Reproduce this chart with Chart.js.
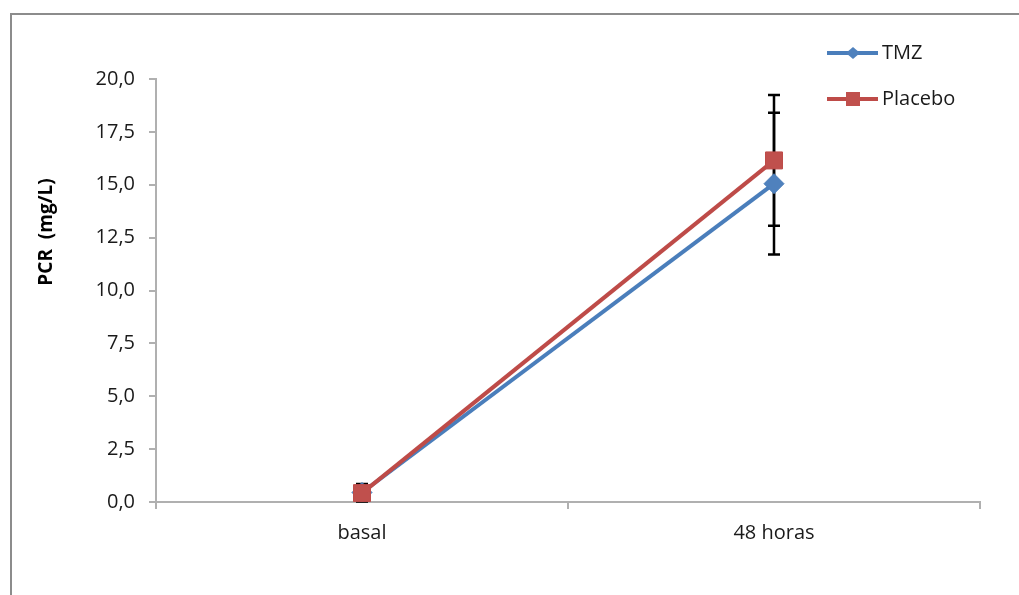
<!DOCTYPE html>
<html>
<head>
<meta charset="utf-8">
<script src="https://cdn.jsdelivr.net/npm/chart.js@4.4.1/dist/chart.umd.min.js"></script>
<style>
  html, body { margin: 0; padding: 0; background: #fff; overflow: hidden; }
  canvas { display: block; }
</style>
</head>
<body>
<canvas id="c" width="1019" height="595"></canvas>
<script>
// ---- data ----
const categories = ['basal', '48 horas'];
const tmzValues = [0.45, 15.05];
const tmzErrors = [0.40, 3.35];
const placeboValues = [0.42, 16.15];
const placeboErrors = [0.40, 3.09];
const yTickLabels = ['0,0', '2,5', '5,0', '7,5', '10,0', '12,5', '15,0', '17,5', '20,0'];
const yTitle = 'PCR  (mg/L)';
const seriesNames = ['TMZ', 'Placebo'];

const FONT = "'Open Sans', 'Liberation Sans', sans-serif";
const AXIS_COLOR = '#b0b0b0';

const errorBarPlugin = {
  id: 'errorBars',
  beforeDatasetsDraw(chart) {
    const ctx = chart.ctx;
    const y = chart.scales.y;
    const x = chart.scales.x;
    const sets = [[tmzValues, tmzErrors], [placeboValues, placeboErrors]];
    ctx.save();
    ctx.strokeStyle = '#000';
    ctx.lineWidth = 2.5;
    sets.forEach(([vals, errs]) => {
      vals.forEach((v, i) => {
        const px = x.getPixelForValue(i);
        const top = y.getPixelForValue(v + errs[i]);
        const bot = y.getPixelForValue(Math.max(0, v - errs[i]));
        ctx.beginPath();
        ctx.moveTo(px, top); ctx.lineTo(px, bot);
        ctx.moveTo(px - 6, top); ctx.lineTo(px + 6, top);
        ctx.moveTo(px - 6, bot); ctx.lineTo(px + 6, bot);
        ctx.stroke();
      });
    });
    ctx.restore();
  }
};

const framePlugin = {
  id: 'frame',
  beforeDraw(chart) {
    const ctx = chart.ctx;
    ctx.save();
    ctx.fillStyle = '#fff';
    ctx.fillRect(0, 0, chart.width, chart.height);
    ctx.strokeStyle = '#8c8c8c';
    ctx.lineWidth = 2;
    ctx.beginPath();
    ctx.moveTo(11, chart.height + 2);
    ctx.lineTo(11, 14);
    ctx.lineTo(chart.width + 2, 14);
    ctx.stroke();
    ctx.restore();
  },
  afterDraw(chart) {
    const ctx = chart.ctx;
    ctx.save();
    // y axis title
    ctx.translate(47, 232);
    ctx.rotate(-Math.PI / 2);
    ctx.font = 'bold 19px ' + FONT;
    ctx.fillStyle = '#000';
    ctx.textAlign = 'center';
    ctx.textBaseline = 'middle';
    ctx.fillText(yTitle, 0, 0);
    ctx.restore();

    // legend
    ctx.save();
    const rows = [53, 99];
    chart.data.datasets.forEach((ds, i) => {
      const cy = rows[i];
      ctx.strokeStyle = ds.borderColor;
      ctx.lineWidth = 4;
      ctx.beginPath();
      ctx.moveTo(827, cy); ctx.lineTo(878, cy);
      ctx.stroke();
      ctx.fillStyle = ds.pointBackgroundColor;
      ctx.beginPath();
      if (ds.pointStyle === 'rect') {
        ctx.rect(853 - 7, cy - 7, 14, 14);
      } else {
        ctx.moveTo(853, cy - 6); ctx.lineTo(860, cy); ctx.lineTo(853, cy + 6); ctx.lineTo(846, cy);
        ctx.closePath();
      }
      ctx.fill();
      ctx.font = '20px ' + FONT;
      ctx.fillStyle = '#1a1a1a';
      ctx.textAlign = 'left';
      ctx.textBaseline = 'middle';
      ctx.fillText(ds.label, 882, cy);
    });
    ctx.restore();
  }
};

new Chart(document.getElementById('c'), {
  type: 'line',
  data: {
    labels: categories,
    datasets: [
      {
        label: seriesNames[0],
        data: tmzValues,
        order: 2,
        borderColor: '#4a7ebb',
        backgroundColor: '#4f81bd',
        pointBackgroundColor: '#4f81bd',
        pointBorderColor: '#4a7ebb',
        pointBorderWidth: 1,
        pointStyle: 'rectRot',
        pointRadius: 10,
        borderWidth: 4,
        tension: 0
      },
      {
        label: seriesNames[1],
        data: placeboValues,
        order: 1,
        borderColor: '#be4b48',
        backgroundColor: '#c0504d',
        pointBackgroundColor: '#c0504d',
        pointBorderColor: '#be4b48',
        pointBorderWidth: 1,
        pointStyle: 'rect',
        pointRadius: 12,
        borderWidth: 4,
        tension: 0
      }
    ]
  },
  options: {
    responsive: false,
    animation: false,
    layout: { padding: { left: 0, top: 79, right: 39, bottom: 0 } },
    plugins: {
      legend: { display: false },
      tooltip: { enabled: false }
    },
    scales: {
      x: {
        type: 'category',
        offset: true,
        grid: { drawOnChartArea: false, drawTicks: true, tickLength: 7, color: AXIS_COLOR, lineWidth: 2, offset: true },
        border: { color: AXIS_COLOR, width: 2 },
        ticks: { color: '#1a1a1a', font: { family: FONT, size: 20 }, padding: 12, maxRotation: 0 },
        afterFit(s) { s.height = 93; }
      },
      y: {
        min: 0,
        max: 20,
        ticks: {
          stepSize: 2.5,
          color: '#1a1a1a',
          font: { family: FONT, size: 20 },
          padding: 14,
          callback: (v, i) => yTickLabels[i]
        },
        grid: { drawOnChartArea: false, drawTicks: true, tickLength: 7, color: AXIS_COLOR, lineWidth: 2 },
        border: { color: AXIS_COLOR, width: 2 },
        afterFit(s) { s.width = 156; }
      }
    }
  },
  plugins: [framePlugin, errorBarPlugin]
});
</script>
</body>
</html>
